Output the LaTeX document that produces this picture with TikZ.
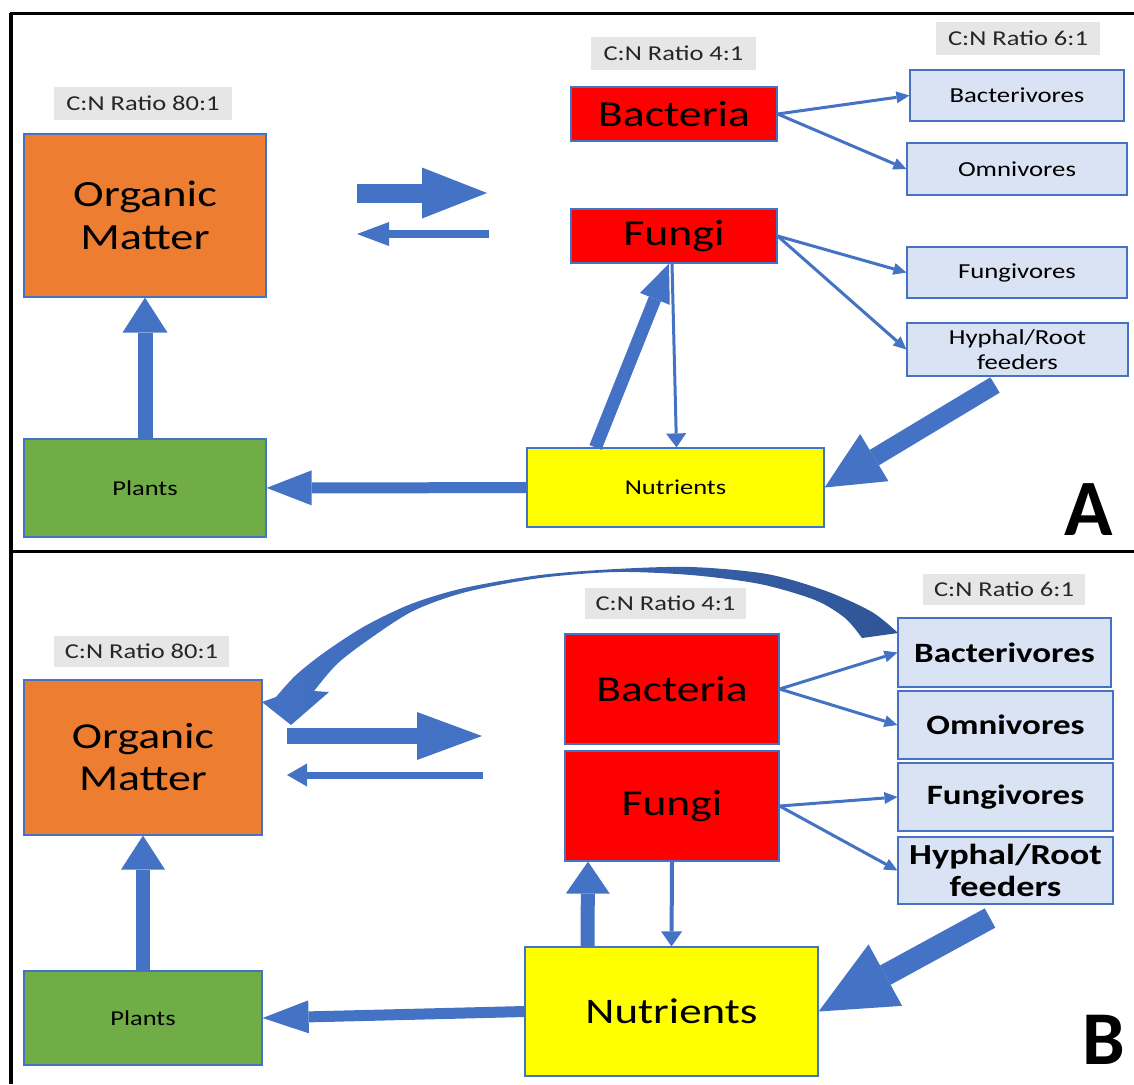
\documentclass[tikz,border=0pt]{standalone}
\usepackage{fontspec}
\setmainfont{Carlito}
\newfontfamily\boxfont{Carlito}[FakeStretch=1.25]
\usepackage{xcolor}
\usetikzlibrary{arrows.meta,calc,positioning}

\definecolor{omorange}{HTML}{ED7D31}
\definecolor{plgreen}{HTML}{70AD47}
\definecolor{micred}{HTML}{FF0000}
\definecolor{nutyellow}{HTML}{FFFF00}
\definecolor{grazerblue}{HTML}{DAE3F3}
\definecolor{boxline}{HTML}{4472C4}
\definecolor{arrowblue}{HTML}{4472C4}
\definecolor{curvedark}{HTML}{2F5597}
\definecolor{labelgray}{HTML}{E7E6E6}

\begin{document}
\begin{tikzpicture}[x=0.5pt,y=-0.5pt,
    box/.style={draw=boxline, line width=0.6pt, inner sep=0pt, align=center},
    ratio/.style={fill=labelgray, inner sep=0pt, text=black!85,
        font=\boxfont\fontsize{10.6}{12}\selectfont},
    blk/.style n args={3}{draw=arrowblue, line width=#1,
        -{Triangle[length=#2,width=#3,line width=0pt]}},
    thinarr/.style={blk={1.5pt}{6.5pt}{6pt}}]
    \useasboundingbox (0,0) rectangle (1134,1084);

    % Frame
    \draw[line width=1.5pt] (10,13.5) -- (1134,13.5);
    \draw[line width=1.5pt] (10,551) -- (1134,551);
    \draw[line width=2pt] (11,12.5) -- (11,1084);

    % ---------- Panel A ----------
    \node[box, fill=omorange, minimum width=121pt, minimum height=81.5pt,
        font=\boxfont\fontsize{18.5}{21.5}\selectfont] (omA) at (145,215.5) {Organic\\Matter};
    \node[box, fill=plgreen, minimum width=121pt, minimum height=49pt,
        font=\boxfont\fontsize{10.6}{12}\selectfont] (plA) at (145,488) {Plants};
    \node[box, fill=micred, minimum width=103pt, minimum height=27pt,
        font=\boxfont\fontsize{18.3}{21}\selectfont] (bacA) at (674,114) {Bacteria};
    \node[box, fill=micred, minimum width=103pt, minimum height=27pt,
        font=\boxfont\fontsize{18.3}{21}\selectfont] (funA) at (674,236) {Fungi};
    \node[box, fill=nutyellow, minimum width=148.5pt, minimum height=39.5pt,
        font=\boxfont\fontsize{10.6}{12}\selectfont] (nutA) at (675.5,487.5) {Nutrients};
    \node[box, fill=grazerblue, minimum width=107pt, minimum height=25.5pt,
        font=\boxfont\fontsize{10.7}{12.5}\selectfont] (bvA) at (1017,95.5) {Bacterivores};
    \node[box, fill=grazerblue, minimum width=110pt, minimum height=26pt,
        font=\boxfont\fontsize{10.7}{12.5}\selectfont] (omnA) at (1017,169) {Omnivores};
    \node[box, fill=grazerblue, minimum width=110pt, minimum height=25.5pt,
        font=\boxfont\fontsize{10.7}{12.5}\selectfont] (fvA) at (1017,272.5) {Fungivores};
    \node[box, fill=grazerblue, minimum width=110.5pt, minimum height=26.5pt,
        font=\boxfont\fontsize{10.7}{12.5}\selectfont] (hrA) at (1017.5,349.5) {Hyphal/Root\\feeders};

    \node[ratio, minimum width=89pt, minimum height=16.5pt] (cnOmA) at (143,103.5) {C:N Ratio 80:1};
    \node[ratio, minimum width=82.5pt, minimum height=16.5pt] (cnMicA) at (673.5,53.5) {C:N Ratio 4:1};
    \node[ratio, minimum width=82pt, minimum height=16.5pt] (cnGrzA) at (1018,38.5) {C:N Ratio 6:1};

    \node[font=\bfseries\fontsize{40}{40}\selectfont] (labA) at (1089,510) {A};

    % arrows A
    \coordinate (fwdA1) at (357,193);
    \coordinate (fwdA2) at (487,193);
    \coordinate (bckA1) at (489,234);
    \coordinate (bckA2) at (357,234);
    \coordinate (hrTailA) at (995,385);
    \draw[blk={9.5pt}{32.5pt}{25.5pt}] (fwdA1) -- (fwdA2);
    \draw[blk={4pt}{16pt}{12pt}] (bckA1) -- (bckA2);
    \draw[blk={7.5pt}{17.5pt}{22.5pt}] (plA) -- (omA);
    \draw[blk={5.5pt}{22.5pt}{17.5pt}] (nutA) -- (plA);
    \draw[blk={6.5pt}{19pt}{16pt}] ([xshift=-40pt]nutA.north) -- ([xshift=-2.5pt]funA.south);
    \draw[blk={1.5pt}{7pt}{10pt}] ([xshift=-1pt]funA.south) -- ([xshift=0.5pt]nutA.north);
    \draw[thinarr] (bacA.east) -- (bvA.west);
    \draw[thinarr] (bacA.east) -- (omnA.west);
    \draw[thinarr] (funA.east) -- (fvA.west);
    \draw[thinarr] (funA.east) -- (hrA.west);
    \draw[blk={9pt}{29pt}{27.5pt}] (hrTailA) -- (nutA.east);

    % ---------- Panel B ----------
    \node[box, fill=omorange, minimum width=119pt, minimum height=77.5pt,
        font=\boxfont\fontsize{18.3}{21}\selectfont] (omB) at (143,757.5) {Organic\\Matter};
    \node[box, fill=plgreen, minimum width=119pt, minimum height=47pt,
        font=\boxfont\fontsize{10.6}{12}\selectfont] (plB) at (143,1018) {Plants};
    \node[box, fill=micred, minimum width=107pt, minimum height=55pt,
        font=\boxfont\fontsize{18.2}{21}\selectfont] (bacB) at (672,689) {Bacteria};
    \node[box, fill=micred, minimum width=107pt, minimum height=55pt,
        font=\boxfont\fontsize{18.2}{21}\selectfont] (funB) at (672,806) {Fungi};
    \node[box, fill=nutyellow, minimum width=146.5pt, minimum height=64.5pt,
        font=\boxfont\fontsize{18}{21}\selectfont] (nutB) at (671.5,1011.5) {Nutrients};
    \node[box, fill=grazerblue, minimum width=106.5pt, minimum height=34.5pt,
        font=\boxfont\bfseries\fontsize{14}{16}\selectfont] (bvB) at (1004.5,652.5) {Bacterivores};
    \node[box, fill=grazerblue, minimum width=107.5pt, minimum height=34pt,
        font=\boxfont\bfseries\fontsize{14}{16}\selectfont] (omnB) at (1005.5,725) {Omnivores};
    \node[box, fill=grazerblue, minimum width=107.5pt, minimum height=34pt,
        font=\boxfont\bfseries\fontsize{14}{16}\selectfont] (fvB) at (1005.5,797) {Fungivores};
    \node[box, fill=grazerblue, minimum width=107.5pt, minimum height=33.5pt,
        font=\boxfont\bfseries\fontsize{14.5}{16}\selectfont] (hrB) at (1005.5,870.5) {Hyphal/Root\\feeders};

    \node[ratio, minimum width=87.5pt, minimum height=15.5pt] (cnOmB) at (141.5,651.5) {C:N Ratio 80:1};
    \node[ratio, minimum width=80.5pt, minimum height=15.5pt] (cnMicB) at (665.5,603.5) {C:N Ratio 4:1};
    \node[ratio, minimum width=81pt, minimum height=15.5pt] (cnGrzB) at (1004,589.5) {C:N Ratio 6:1};

    \node[font=\bfseries\fontsize{38}{38}\selectfont, inner sep=0pt] (labB) at (1104,1040) {B};

    % curved return arrow, grazers back to organic matter
    \shade[left color=arrowblue, middle color=arrowblue, right color=curvedark]
        plot[smooth] coordinates {(898,633) (872,612) (826,591) (767,574) (691,567)
            (616,569) (540,575) (464,588) (411,604) (365,626) (325,652) (296,675) (276,697)}
        -- (262,702) -- (291,725) -- (329,692) -- (314,691)
        -- plot[smooth] coordinates {(314,691) (337,664) (368,640) (413,611) (466,592)
            (540,578) (616,572) (691,575) (760,584) (815,600) (845,618) (862,638)}
        -- cycle;

    % arrows B
    \coordinate (fwdB1) at (287,736);
    \coordinate (fwdB2) at (482,736);
    \coordinate (bckB1) at (483,775);
    \coordinate (bckB2) at (287,775);
    \coordinate (hrTailB) at (990,918);
    \draw[blk={8pt}{32.5pt}{24pt}] (fwdB1) -- (fwdB2);
    \draw[blk={3.5pt}{10pt}{11.5pt}] (bckB1) -- (bckB2);
    \draw[blk={7pt}{17pt}{22pt}] (plB) -- (omB);
    \draw[blk={5.5pt}{23pt}{16.5pt}] (nutB.west) -- (plB.east);
    \draw[blk={7pt}{16pt}{22pt}] ([xshift=-42pt]nutB.north) -- ([xshift=-42pt]funB.south);
    \draw[blk={2pt}{7.5pt}{10.5pt}] (funB.south) -- (nutB.north);
    \draw[thinarr] (bacB.east) -- (bvB.west);
    \draw[thinarr] (bacB.east) -- (omnB.west);
    \draw[thinarr] (funB.east) -- (fvB.west);
    \draw[thinarr] (funB.east) -- (hrB.west);
    \draw[blk={11pt}{38pt}{35pt}] (hrTailB) -- (nutB.east);
\end{tikzpicture}
\end{document}
